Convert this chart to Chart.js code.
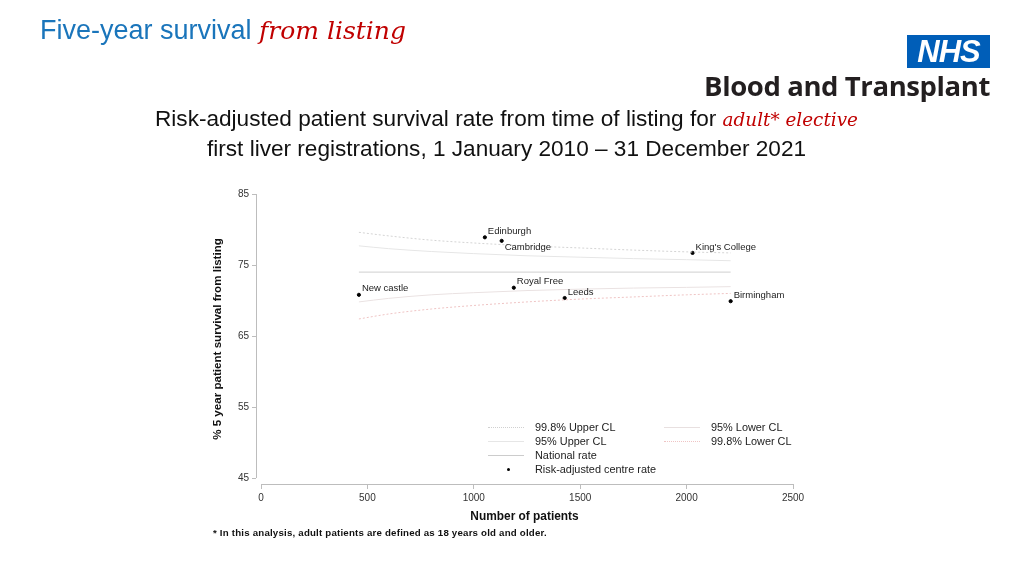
<!DOCTYPE html>
<html>
<head>
<meta charset="utf-8">
<script src="https://cdn.jsdelivr.net/npm/chart.js@4.4.0/dist/chart.umd.min.js"></script>
<style>
  body { margin: 0; background: #fff; }
  #page { position: relative; width: 1024px; height: 576px; overflow: hidden; font-family: "Liberation Sans", Arial, sans-serif; }
  #page canvas { position: absolute; left: 0; top: 0; }
  .abs { position: absolute; white-space: nowrap; }
  .script { font-family: "DejaVu Serif", serif; font-style: italic; color: #c00000; }
  #title { left: 40px; top: 15px; font-size: 27px; color: #1a75bb; }
  #title .script { font-size: 25px; }
  #sub1 { left: 155px; top: 106px; font-size: 22.6px; color: #111; }
  #sub1 .script { font-size: 18.4px; }
  #sub2 { left: 0; width: 1013px; text-align: center; top: 136px; font-size: 22.6px; color: #111; }
  #nhs { left: 907px; top: 35px; width: 83px; height: 33px; background: #005eb8; color: #fff; font: italic bold 31px "Liberation Sans", Arial, sans-serif; text-align: center; line-height: 34px; letter-spacing: -1px; }
  #bt { right: 34px; top: 67px; font: bold 27.5px "Open Sans", sans-serif; color: #231f20; letter-spacing: -0.4px; }
  .leg { font-size: 10.9px; color: #222; }
  .sw { position: absolute; height: 0; width: 36px; }
  #foot { left: 213px; top: 527px; font-size: 9.7px; font-weight: bold; color: #111; letter-spacing: 0.2px; }
</style>
</head>
<body>
<div id="page">
  <canvas id="grafico" width="1024" height="576"></canvas>
  <div class="abs" id="title">Five-year survival <span class="script">from listing</span></div>
  <div class="abs" id="nhs">NHS</div>
  <div class="abs" id="bt">Blood and Transplant</div>
  <div class="abs" id="sub1">Risk-adjusted patient survival rate from time of listing for <span class="script">adult* elective</span></div>
  <div class="abs" id="sub2">first liver registrations, 1 January 2010 &ndash; 31 December 2021</div>

  <div class="sw" style="left:488px;top:427px;border-top:1px dotted #d0d0d0"></div>
  <div class="abs leg" style="left:535px;top:421px">99.8% Upper CL</div>
  <div class="sw" style="left:488px;top:441px;border-top:1px solid #e6e6e6"></div>
  <div class="abs leg" style="left:535px;top:435px">95% Upper CL</div>
  <div class="sw" style="left:488px;top:455px;border-top:1px solid #cccccc"></div>
  <div class="abs leg" style="left:535px;top:449px">National rate</div>
  <div class="abs" style="left:507px;top:468px;width:3px;height:3px;border-radius:50%;background:#000"></div>
  <div class="abs leg" style="left:535px;top:463px">Risk-adjusted centre rate</div>
  <div class="sw" style="left:664px;top:427px;border-top:1px solid #e8e0e0"></div>
  <div class="abs leg" style="left:711px;top:421px">95% Lower CL</div>
  <div class="sw" style="left:664px;top:441px;border-top:1px dotted #efc4c4"></div>
  <div class="abs leg" style="left:711px;top:435px">99.8% Lower CL</div>

  <div class="abs" id="foot">* In this analysis, adult patients are defined as 18 years old and older.</div>
</div>
<script>
// datos
var centros = ['Edinburgh', 'Cambridge', "King's College", 'Royal Free', 'New castle', 'Leeds', 'Birmingham'];
var pacientes = [1052, 1131, 2028, 1188, 460, 1427, 2207];
var supervivencia = [78.9, 78.4, 76.7, 71.8, 70.8, 70.35, 69.9];

var nFunnel = [460, 600, 800, 1000, 1250, 1500, 1750, 2000, 2207];
var sup998 = [79.6, 79.1, 78.5, 78.1, 77.7, 77.4, 77.1, 76.85, 76.7];
var sup95 = [77.7, 77.3, 76.9, 76.6, 76.3, 76.1, 75.9, 75.75, 75.6];
var inf95 = [69.8, 70.3, 70.8, 71.1, 71.4, 71.6, 71.75, 71.85, 71.95];
var inf998 = [67.4, 68.1, 68.8, 69.3, 69.8, 70.2, 70.5, 70.8, 71.0];
var nNacional = [460, 2207];
var tasaNacional = [74.0, 74.0];

var ticksX = [0, 500, 1000, 1500, 2000, 2500];
var ticksY = [45, 55, 65, 75, 85];

function puntos(xs, ys) {
    var res = [];
    for (var i = 0; i < xs.length; i++) {
        res.push({x: xs[i], y: ys[i]});
    }
    return res;
}

function linea(label, xs, ys, color, dash) {
    return {
        type: 'line',
        label: label,
        data: puntos(xs, ys),
        borderColor: color,
        borderWidth: 1,
        borderDash: dash,
        pointRadius: 0,
        cubicInterpolationMode: 'monotone',
        fill: false
    };
}

// ejes separados al estilo stata
var ejes = {
    id: 'ejes',
    afterDraw: function(chart) {
        var ctx = chart.ctx, sx = chart.scales.x, sy = chart.scales.y, a = chart.chartArea;
        ctx.save();
        ctx.strokeStyle = '#bdbdbd';
        ctx.lineWidth = 1;
        ctx.beginPath();
        ctx.moveTo(Math.round(a.left) + 0.5, sy.getPixelForValue(85));
        ctx.lineTo(Math.round(a.left) + 0.5, sy.getPixelForValue(45));
        ctx.moveTo(sx.getPixelForValue(0), Math.round(a.bottom) + 0.5);
        ctx.lineTo(sx.getPixelForValue(2500), Math.round(a.bottom) + 0.5);
        ctx.stroke();
        ctx.restore();
    }
};

var etiquetas = {
    id: 'etiquetas',
    afterDatasetsDraw: function(chart) {
        var ctx = chart.ctx;
        var meta = chart.getDatasetMeta(chart.data.datasets.length - 1);
        ctx.save();
        ctx.font = '9.5px "Liberation Sans", Arial, sans-serif';
        ctx.fillStyle = '#222';
        ctx.textBaseline = 'middle';
        meta.data.forEach(function(p, i) {
            var dy = centros[i] === 'Cambridge' ? 7 : -6;
            ctx.fillText(centros[i], p.x + 3, p.y + dy);
        });
        ctx.restore();
    }
};

Chart.defaults.font.family = '"Liberation Sans", Arial, sans-serif';

var ctx = document.getElementById('grafico').getContext('2d');
var grafico = new Chart(ctx, {
    type: 'scatter',
    data: {
        datasets: [
            linea('99.8% Upper CL', nFunnel, sup998, '#d4d4d4', [2, 2]),
            linea('95% Upper CL', nFunnel, sup95, '#e6e6e6', []),
            linea('National rate', nNacional, tasaNacional, '#cfcfcf', []),
            linea('95% Lower CL', nFunnel, inf95, '#eae2e2', []),
            linea('99.8% Lower CL', nFunnel, inf998, '#efc4c4', [2, 2]),
            {
                type: 'scatter',
                label: 'Risk-adjusted centre rate',
                data: puntos(pacientes, supervivencia),
                backgroundColor: '#000',
                borderColor: '#000',
                pointRadius: 1.6,
                pointHoverRadius: 1.6
            }
        ]
    },
    options: {
        responsive: false,
        animation: false,
        layout: { padding: { left: 207, right: 231, top: 194, bottom: 48 } },
        plugins: {
            legend: { display: false },
            tooltip: { enabled: false }
        },
        scales: {
            x: {
                type: 'linear',
                min: -23.5,
                max: 2500,
                afterBuildTicks: function(s) { s.ticks = ticksX.map(function(v) { return {value: v}; }); },
                afterFit: function(s) { s.height = 44; },
                grid: { display: true, drawOnChartArea: false, drawTicks: true, tickLength: 5, color: '#bdbdbd' },
                border: { display: false },
                ticks: { font: { size: 10 }, color: '#333', padding: 3, maxRotation: 0,
                    callback: function(v) { return String(v); } },
                title: { display: true, text: 'Number of patients', font: { size: 11.9, weight: 'bold' }, color: '#111', padding: { top: 4, bottom: 4 } }
            },
            y: {
                type: 'linear',
                min: 44.155,
                max: 85,
                afterBuildTicks: function(s) { s.ticks = ticksY.map(function(v) { return {value: v}; }); },
                afterFit: function(s) { s.width = 49; },
                grid: { display: true, drawOnChartArea: false, drawTicks: true, tickLength: 4, color: '#bdbdbd' },
                border: { display: false },
                ticks: { font: { size: 10 }, color: '#333', padding: 3 },
                title: { display: true, text: '% 5 year patient survival from listing', font: { size: 11.6, weight: 'bold' }, color: '#111', padding: { top: 4, bottom: 4 } }
            }
        }
    },
    plugins: [ejes, etiquetas]
});
</script>
</body>
</html>
